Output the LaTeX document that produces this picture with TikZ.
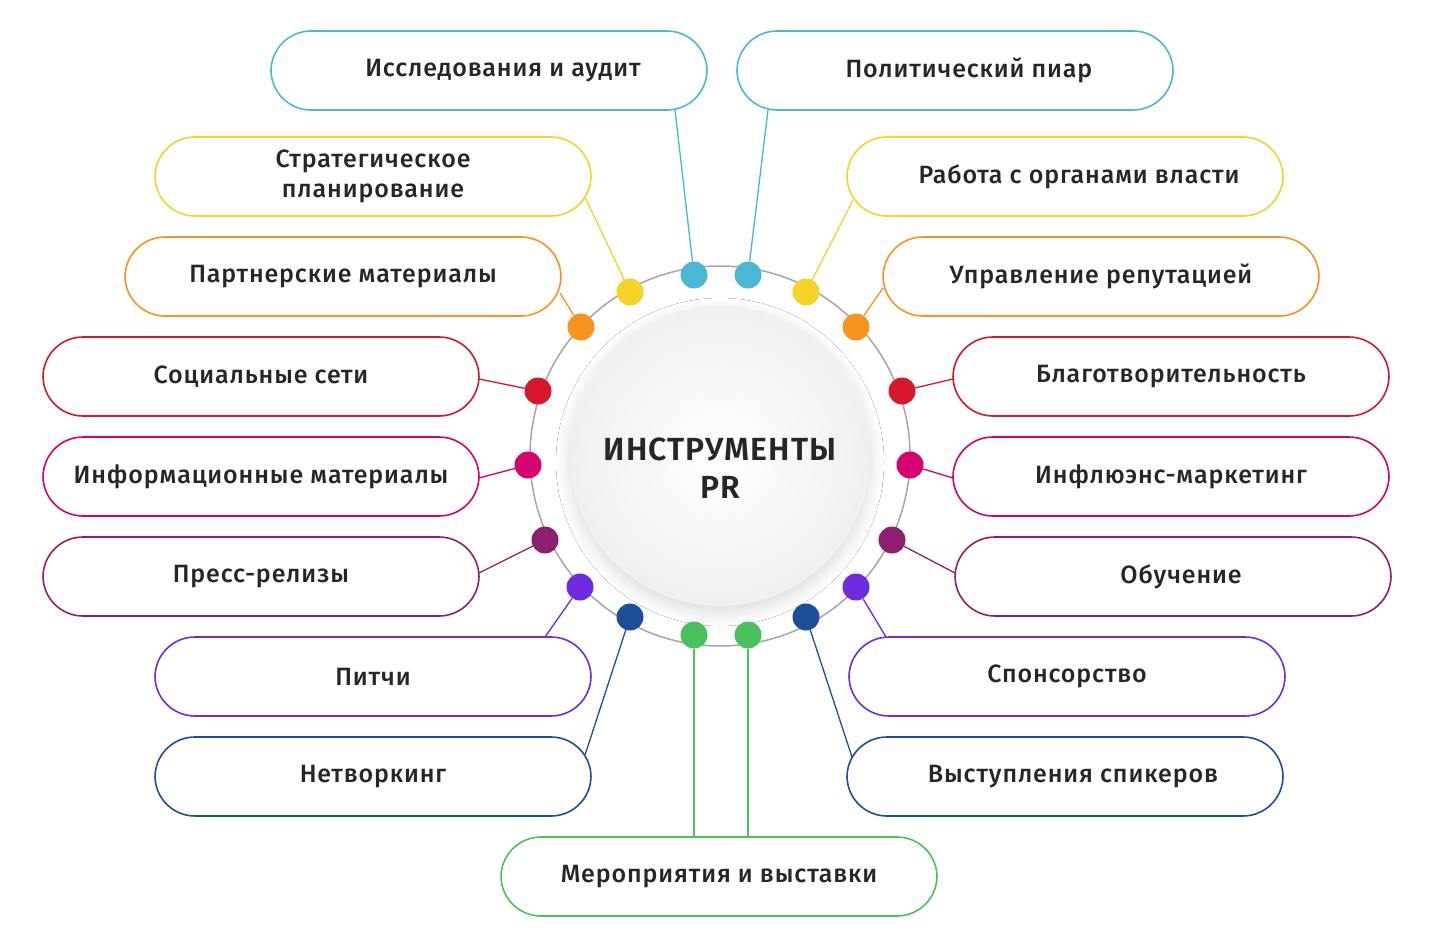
\documentclass[tikz,border=0pt]{standalone}
\usepackage{fontspec}
\setmainfont{Fira Sans}[UprightFont=* Medium,BoldFont=* SemiBold,LetterSpace=3.5]
\usetikzlibrary{shadows.blur}
\definecolor{ccyan}{HTML}{4BB8D3}
\definecolor{cyel}{HTML}{F5D327}
\definecolor{corg}{HTML}{F7931E}
\definecolor{cred}{HTML}{D7182A}
\definecolor{cpink}{HTML}{D6006E}
\definecolor{cpur}{HTML}{8E1F6E}
\definecolor{cvio}{HTML}{6F2BE0}
\definecolor{cnavy}{HTML}{1D4E9A}
\definecolor{cgreen}{HTML}{4BC15E}
\begin{document}
\begin{tikzpicture}[x=1pt,y=-1pt,
 box/.style={draw=#1,line width=1.6pt,rounded corners=40pt,minimum width=436pt,minimum height=79pt,fill=white,font=\fontsize{25}{30}\selectfont,align=center,text=black!85},
 dot/.style={circle,fill=#1,minimum size=27pt,inner sep=0pt},
 con/.style={draw=#1,line width=1.3pt}]
\useasboundingbox (0,0) rectangle (1440,950);
\fill[white] (0,0) rectangle (1440,950);
\draw[gray!70,line width=1.5pt] (720,456) circle (190);
\node[circle,inner color=white,outer color=black!6,minimum size=300pt,blur shadow={shadow blur steps=12,shadow xshift=0pt,shadow yshift=-6pt,shadow opacity=15,shadow blur radius=14pt}] (c) at (720,456) {};
\node[font=\fontsize{32}{38}\selectfont\bfseries,align=center,text=black!85] (t) at (720,468) {ИНСТРУМЕНТЫ\\PR};
% boxes
\node[box=ccyan] (b1) at (489,70.5) {\hspace*{28pt}Исследования и аудит};
\node[box=cyel] (b2) at (373,176.5) {Стратегическое\\планирование};
\node[box=corg] (b3) at (343,276.5) {Партнерские материалы};
\node[box=cred] (b4) at (261,376.5) {Социальные сети};
\node[box=cpink] (b5) at (261,476.5) {Информационные материалы};
\node[box=cpur] (b6) at (261,576.5) {Пресс-релизы};
\node[box=cvio] (b7) at (373,676.5) {Питчи};
\node[box=cnavy] (b8) at (373,776.5) {Нетворкинг};
\node[box=cgreen] (b9) at (719,876.5) {Мероприятия и выставки};
\node[box=ccyan] (r1) at (955,70.5) {\hspace*{28pt}Политический пиар};
\node[box=cyel] (r2) at (1065,176.5) {\hspace*{28pt}Работа с органами власти};
\node[box=corg] (r3) at (1101,276.5) {Управление репутацией};
\node[box=cred] (r4) at (1171,376.5) {Благотворительность};
\node[box=cpink] (r5) at (1171,476.5) {Инфлюэнс-маркетинг};
\node[box=cpur] (r6) at (1173,576.5) {\hspace*{16pt}Обучение};
\node[box=cvio] (r7) at (1067,676.5) {Спонсорство};
\node[box=cnavy] (r8) at (1065,776.5) {\hspace*{16pt}Выступления спикеров};
% connector ends
\coordinate (e1) at (675,110); \coordinate (f1) at (768,110);
\coordinate (e2) at (585,197); \coordinate (f2) at (853,200);
\coordinate (e3) at (560,293); \coordinate (f3) at (883,288);
\coordinate (e4) at (479,379); \coordinate (f4) at (953,379);
\coordinate (e5) at (479,478); \coordinate (f5) at (953,478);
\coordinate (e6) at (479,573); \coordinate (f6) at (955,573);
\coordinate (e7) at (545,637); \coordinate (f7) at (886,637);
\coordinate (e8) at (585,755); \coordinate (f8) at (852,757);
\coordinate (e9) at (694,837); \coordinate (f9) at (748,837);
% dots
\foreach \n/\col/\x/\y/\xx in {1/ccyan/694/275/748, 2/cyel/630/292/806, 3/corg/581/327/856, 4/cred/538/391/902, 5/cpink/528/465/910, 6/cpur/545/540/892, 7/cvio/580/587/856, 8/cnavy/630/617/806, 9/cgreen/694/635/748}{
 \node[dot=\col] (d\n) at (\x,\y) {};
 \node[dot=\col] (g\n) at (\xx,\y) {};
 \draw[con=\col] (d\n) -- (e\n);
 \draw[con=\col] (g\n) -- (f\n);
}
\end{tikzpicture}
\end{document}
